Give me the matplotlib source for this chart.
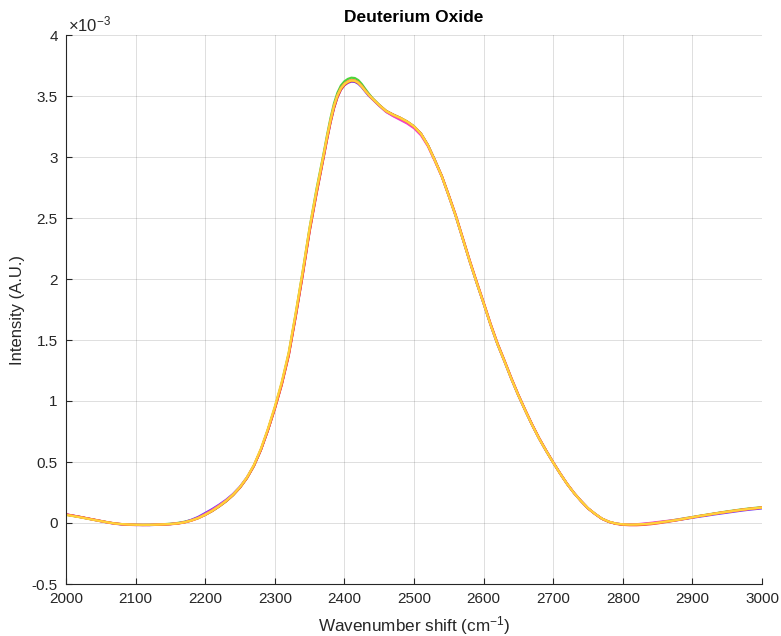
import numpy as np
import matplotlib
matplotlib.use("Agg")
import matplotlib.pyplot as plt
from matplotlib.ticker import FuncFormatter

plt.rcParams["font.family"] = ["Liberation Sans", "DejaVu Sans"]
plt.rcParams["mathtext.fontset"] = "custom"
plt.rcParams["mathtext.rm"] = "Liberation Sans"
plt.rcParams["mathtext.it"] = "Liberation Sans:italic"
plt.rcParams["mathtext.bf"] = "Liberation Sans:bold"

# Raman shift axis (cm^-1): 10 cm^-1 sampling, 5 cm^-1 around the band maximum
wavenumber = np.concatenate([np.arange(2000, 2370, 10),
                             np.arange(2370, 2440, 5),
                             np.arange(2440, 3001, 10)])

# Six repeat spectra of D2O, intensities in units of 1e-3 A.U.
spec_green = [
    0.068, 0.058, 0.048, 0.037, 0.026, 0.015, 0.004, -0.005, -0.011, -0.014,
    -0.016, -0.016, -0.015, -0.013, -0.010, -0.006, 0.000, 0.010, 0.024, 0.043,
    0.068, 0.098, 0.135, 0.177, 0.228, 0.290, 0.368, 0.468, 0.600, 0.762,
    0.945, 1.148, 1.392, 1.715, 2.058, 2.420, 2.740,
    3.025, 3.178, 3.318, 3.438, 3.527, 3.586, 3.620, 3.640, 3.650, 3.647,
    3.630, 3.598, 3.558, 3.520,
    3.485, 3.428, 3.378, 3.348, 3.322, 3.292,
    3.252, 3.192, 3.098, 2.975, 2.842, 2.682, 2.515, 2.330, 2.145, 1.968,
    1.800, 1.625, 1.465, 1.325, 1.180, 1.045, 0.920, 0.800, 0.690, 0.590,
    0.495, 0.405, 0.320, 0.245, 0.180, 0.120, 0.075, 0.035, 0.010, -0.005,
    -0.012, -0.014, -0.013, -0.010, -0.004, 0.004, 0.012, 0.021, 0.030, 0.040,
    0.049, 0.059, 0.068, 0.077, 0.086, 0.095, 0.103, 0.111, 0.118, 0.124,
    0.129]

spec_blue = [
    0.070, 0.060, 0.050, 0.038, 0.027, 0.016, 0.005, -0.004, -0.010, -0.013,
    -0.015, -0.016, -0.017, -0.015, -0.012, -0.009, -0.003, 0.007, 0.026, 0.050,
    0.082, 0.114, 0.150, 0.190, 0.238, 0.298, 0.374, 0.472, 0.600, 0.760,
    0.940, 1.140, 1.380, 1.695, 2.035, 2.395, 2.705,
    2.995, 3.145, 3.282, 3.400, 3.490, 3.552, 3.588, 3.608, 3.618, 3.616,
    3.600, 3.572, 3.536, 3.502,
    3.475, 3.420, 3.370, 3.338, 3.312, 3.282,
    3.250, 3.190, 3.095, 2.970, 2.840, 2.680, 2.515, 2.330, 2.145, 1.970,
    1.800, 1.625, 1.465, 1.325, 1.180, 1.045, 0.920, 0.800, 0.690, 0.590,
    0.495, 0.405, 0.320, 0.245, 0.180, 0.120, 0.075, 0.035, 0.010, -0.005,
    -0.012, -0.013, -0.012, -0.008, -0.003, 0.003, 0.010, 0.017, 0.025, 0.034,
    0.043, 0.052, 0.060, 0.069, 0.077, 0.085, 0.093, 0.101, 0.108, 0.114,
    0.120]

spec_magenta = [
    0.072, 0.061, 0.050, 0.038, 0.026, 0.014, 0.003, -0.006, -0.012, -0.015,
    -0.017, -0.017, -0.016, -0.013, -0.011, -0.008, -0.003, 0.006, 0.022, 0.044,
    0.075, 0.108, 0.146, 0.186, 0.234, 0.294, 0.371, 0.470, 0.600, 0.760,
    0.938, 1.138, 1.378, 1.698, 2.038, 2.400, 2.712,
    3.005, 3.155, 3.295, 3.415, 3.505, 3.565, 3.600, 3.620, 3.630, 3.627,
    3.610, 3.580, 3.542, 3.508,
    3.478, 3.422, 3.370, 3.335, 3.305, 3.275,
    3.236, 3.178, 3.088, 2.966, 2.838, 2.680, 2.515, 2.330, 2.145, 1.970,
    1.800, 1.625, 1.465, 1.325, 1.180, 1.045, 0.920, 0.800, 0.690, 0.590,
    0.495, 0.405, 0.320, 0.245, 0.180, 0.120, 0.075, 0.035, 0.010, -0.005,
    -0.011, -0.012, -0.010, -0.005, 0.001, 0.008, 0.015, 0.021, 0.029, 0.038,
    0.047, 0.056, 0.065, 0.074, 0.082, 0.090, 0.098, 0.106, 0.113, 0.119,
    0.125]

spec_red = [
    0.070, 0.060, 0.050, 0.039, 0.028, 0.017, 0.006, -0.003, -0.009, -0.013,
    -0.015, -0.016, -0.016, -0.015, -0.013, -0.010, -0.005, 0.004, 0.019, 0.039,
    0.066, 0.098, 0.136, 0.178, 0.228, 0.290, 0.368, 0.468, 0.598, 0.756,
    0.934, 1.132, 1.370, 1.688, 2.026, 2.386, 2.698,
    2.990, 3.140, 3.280, 3.398, 3.490, 3.552, 3.590, 3.612, 3.623, 3.622,
    3.606, 3.578, 3.542, 3.510,
    3.480, 3.425, 3.378, 3.348, 3.322, 3.290,
    3.250, 3.192, 3.098, 2.975, 2.846, 2.688, 2.524, 2.340, 2.155, 1.980,
    1.810, 1.635, 1.474, 1.333, 1.188, 1.052, 0.926, 0.806, 0.695, 0.594,
    0.498, 0.407, 0.321, 0.246, 0.180, 0.120, 0.075, 0.035, 0.009, -0.007,
    -0.015, -0.018, -0.018, -0.015, -0.010, -0.003, 0.006, 0.015, 0.025, 0.035,
    0.046, 0.056, 0.065, 0.075, 0.084, 0.092, 0.100, 0.108, 0.115, 0.121,
    0.127]

spec_orange = [
    0.069, 0.059, 0.049, 0.038, 0.027, 0.016, 0.005, -0.004, -0.010, -0.013,
    -0.015, -0.016, -0.016, -0.014, -0.012, -0.009, -0.004, 0.005, 0.020, 0.040,
    0.067, 0.099, 0.137, 0.179, 0.229, 0.291, 0.369, 0.469, 0.600, 0.760,
    0.940, 1.140, 1.380, 1.700, 2.040, 2.400, 2.712,
    3.008, 3.158, 3.298, 3.418, 3.505, 3.565, 3.600, 3.620, 3.630, 3.627,
    3.612, 3.582, 3.545, 3.510,
    3.480, 3.425, 3.375, 3.345, 3.320, 3.290,
    3.250, 3.190, 3.095, 2.972, 2.842, 2.684, 2.519, 2.334, 2.149, 1.974,
    1.804, 1.629, 1.468, 1.328, 1.182, 1.047, 0.921, 0.801, 0.690, 0.590,
    0.495, 0.405, 0.320, 0.245, 0.180, 0.120, 0.075, 0.035, 0.010, -0.005,
    -0.012, -0.014, -0.013, -0.010, -0.005, 0.002, 0.010, 0.018, 0.027, 0.037,
    0.047, 0.057, 0.066, 0.075, 0.084, 0.092, 0.100, 0.108, 0.115, 0.121,
    0.127]

spec_yellow = [
    0.066, 0.057, 0.047, 0.036, 0.025, 0.015, 0.005, -0.004, -0.009, -0.012,
    -0.014, -0.015, -0.015, -0.013, -0.011, -0.008, -0.003, 0.006, 0.021, 0.041,
    0.069, 0.101, 0.139, 0.182, 0.233, 0.296, 0.375, 0.477, 0.610, 0.772,
    0.955, 1.158, 1.400, 1.722, 2.062, 2.420, 2.730,
    3.015, 3.165, 3.300, 3.418, 3.505, 3.563, 3.598, 3.617, 3.627, 3.624,
    3.608, 3.578, 3.542, 3.510,
    3.480, 3.425, 3.376, 3.346, 3.321, 3.291,
    3.251, 3.191, 3.096, 2.971, 2.840, 2.680, 2.515, 2.330, 2.145, 1.970,
    1.800, 1.625, 1.465, 1.325, 1.180, 1.045, 0.920, 0.800, 0.690, 0.590,
    0.495, 0.405, 0.320, 0.245, 0.180, 0.121, 0.076, 0.036, 0.011, -0.004,
    -0.011, -0.013, -0.012, -0.009, -0.005, 0.002, 0.010, 0.018, 0.027, 0.037,
    0.047, 0.057, 0.066, 0.075, 0.084, 0.092, 0.100, 0.108, 0.115, 0.121,
    0.127]

spectra = [spec_green, spec_blue, spec_magenta, spec_red, spec_orange, spec_yellow]
line_colors = ["#4fd43a", "#6a3cf0", "#f23fc8", "#f23c3c", "#ff8c3a", "#ffd23a"]

x_ticks = list(range(2000, 3001, 100))
y_ticks = [-0.5, 0, 0.5, 1, 1.5, 2, 2.5, 3, 3.5, 4]
scale = 1e-3

W, H = 781, 636
fig = plt.figure(figsize=(W / 100, H / 100), dpi=100)
left, right, top, bottom = 66, 762, 35, 584
ax = fig.add_axes([left / W, 1 - bottom / H, (right - left) / W, (bottom - top) / H])

for vals, col in zip(spectra, line_colors):
    ax.plot(wavenumber, np.asarray(vals) * scale, color=col, lw=1.6,
            solid_joinstyle="round", solid_capstyle="round")

ax.set_xlim(2000, 3000)
ax.set_ylim(-0.5 * scale, 4 * scale)
ax.set_xticks(x_ticks)
ax.set_yticks([v * scale for v in y_ticks])
ax.yaxis.set_major_formatter(FuncFormatter(lambda v, p: f"{v / scale:g}"))

axis_col = "#262626"
ax.grid(True, color="#262626", alpha=0.15, lw=0.7)
ax.set_axisbelow(True)
for s in ("top", "right"):
    ax.spines[s].set_visible(False)
for s in ("left", "bottom"):
    ax.spines[s].set_color(axis_col)
    ax.spines[s].set_linewidth(0.8)
ax.tick_params(direction="in", length=4, width=0.8, colors=axis_col,
               labelsize=11, labelcolor=axis_col, pad=6)

cx = (left + right) / 2 / W
fig.text(cx, 1 - 18 / H, "Deuterium Oxide", ha="center", va="center",
         fontsize=12.5, fontweight="bold", color="#000000")
fig.text(cx, 1 - 626 / H, r"Wavenumber shift (cm$^{-1}$)", ha="center",
         va="center", fontsize=12.3, color=axis_col)
fig.text(18 / W, 1 - 310 / H, "Intensity (A.U.)", ha="center", va="center",
         rotation=90, fontsize=12, color=axis_col)
fig.text(68 / W, 1 - 31 / H, r"$\times$10$^{-3}$", ha="left", va="baseline",
         fontsize=12, color=axis_col)

fig.savefig("out.png", dpi=100)
